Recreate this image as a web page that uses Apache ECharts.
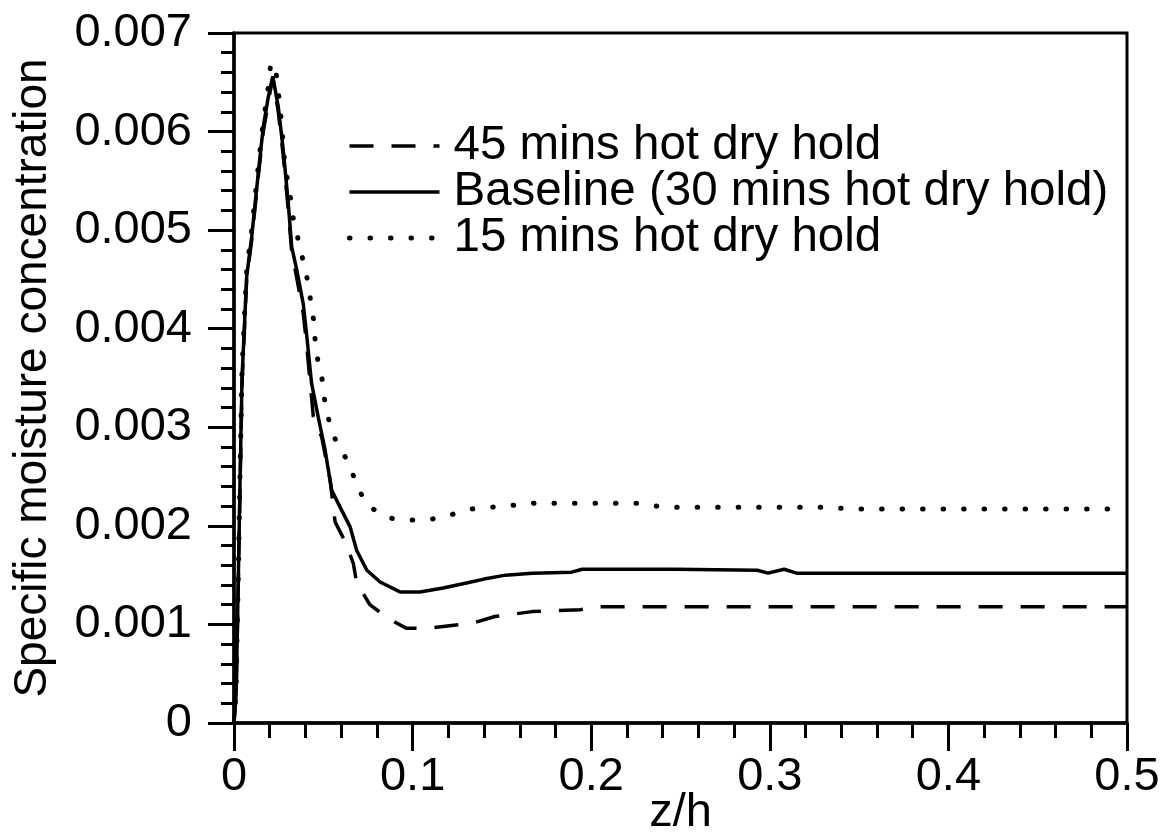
<!DOCTYPE html>
<html>
<head>
<meta charset="utf-8">
<script src="https://cdn.jsdelivr.net/npm/echarts@6/dist/echarts.min.js"></script>
<style>
html,body{margin:0;padding:0;background:#fff;}
#chart{width:1163px;height:833px;}
</style>
</head>
<body>
<div id="chart"></div>
<script>
// ---- data ----
const seriesNames = ['45 mins hot dry hold', 'Baseline (30 mins hot dry hold)', '15 mins hot dry hold'];

const xTickLabels = ['0', '0.1', '0.2', '0.3', '0.4', '0.5'];
const yTickLabels = ['0', '0.001', '0.002', '0.003', '0.004', '0.005', '0.006', '0.007'];

// 45 mins hot dry hold (dashed)
const z45 = [0, 0.0012, 0.0024, 0.0034, 0.0045, 0.0071, 0.0099, 0.0136, 0.0164, 0.0192, 0.0217, 0.0248, 0.0276, 0.0304, 0.0323, 0.0351, 0.0388, 0.0406, 0.0444, 0.0491, 0.0538, 0.0566, 0.0622, 0.0668, 0.0687, 0.0761, 0.0864, 0.0967, 0.1079, 0.1219, 0.1331, 0.1461, 0.167, 0.180, 0.194, 0.203, 0.5];
const v45 = [0, 0.0003, 0.0014, 0.0024, 0.00345, 0.0045, 0.0049, 0.00555, 0.0060, 0.0063, 0.00655, 0.0062, 0.00575, 0.0052, 0.00478, 0.00452, 0.00415, 0.00385, 0.00311, 0.0029, 0.00247, 0.00204, 0.00184, 0.00162, 0.00142, 0.0012, 0.00106, 0.00096, 0.00096, 0.00099, 0.00101, 0.00108, 0.00113, 0.00114, 0.00115, 0.00118, 0.00118];

// Baseline, 30 mins hot dry hold (solid)
const z30 = [0, 0.0012, 0.0024, 0.0034, 0.0045, 0.0071, 0.0099, 0.0136, 0.0164, 0.0192, 0.0217, 0.0248, 0.0276, 0.0304, 0.0323, 0.0351, 0.0388, 0.0406, 0.0434, 0.0472, 0.051, 0.0547, 0.0594, 0.065, 0.0687, 0.0744, 0.0818, 0.0929, 0.1041, 0.1171, 0.1302, 0.14, 0.152, 0.167, 0.189, 0.195, 0.247, 0.293, 0.299, 0.308, 0.315, 0.5];
const v30 = [0, 0.0003, 0.00145, 0.00247, 0.0035, 0.00453, 0.00493, 0.00558, 0.00605, 0.00635, 0.00656, 0.00625, 0.00581, 0.00527, 0.00483, 0.0046, 0.00425, 0.00395, 0.00345, 0.0031, 0.00277, 0.00236, 0.00219, 0.00199, 0.00175, 0.00155, 0.00143, 0.00133, 0.00133, 0.00137, 0.00142, 0.00146, 0.0015, 0.00152, 0.00153, 0.00156, 0.00156, 0.00155, 0.00152, 0.00156, 0.00152, 0.00152];

// 15 mins hot dry hold (dotted)
const z15 = [0, 0.0012, 0.0024, 0.0034, 0.0045, 0.0071, 0.0099, 0.0136, 0.0164, 0.0192, 0.0205, 0.023, 0.0258, 0.0286, 0.0314, 0.0323, 0.0351, 0.0379, 0.0407, 0.0426, 0.0444, 0.0454, 0.0469, 0.0494, 0.051, 0.0538, 0.0575, 0.0646, 0.0683, 0.0743, 0.0864, 0.0967, 0.1088, 0.121, 0.132, 0.1449, 0.168, 0.227, 0.240, 0.334, 0.345, 0.5];
const v15 = [0, 0.00035, 0.0015, 0.00255, 0.0036, 0.0046, 0.005, 0.00565, 0.0061, 0.00645, 0.00668, 0.00669, 0.00625, 0.00564, 0.00537, 0.00519, 0.00497, 0.00475, 0.00453, 0.00432, 0.00411, 0.00389, 0.00368, 0.00348, 0.00324, 0.00302, 0.00284, 0.00263, 0.00243, 0.00221, 0.00208, 0.00206, 0.00206, 0.00211, 0.00217, 0.00219, 0.00223, 0.00223, 0.00219, 0.00219, 0.00217, 0.00217];

// ---- chart ----
const FONT = "'Liberation Sans', Arial, Helvetica, sans-serif";
const zip = (a, b) => a.map((x, i) => [x, b[i]]);

const styles = [
  { type: [24, 18], width: 3.5, cap: 'butt' },
  { type: 'solid', width: 3.5, cap: 'butt' },
  { type: [0.5, 20], width: 5, cap: 'round' }
];
const dataSets = [zip(z45, v45), zip(z30, v30), zip(z15, v15)];

const chart = echarts.init(document.getElementById('chart'), null, { renderer: 'canvas' });

chart.setOption({
  backgroundColor: '#fff',
  animation: false,
  grid: {
    left: 234, right: 36, top: 33, bottom: 110,
    outerBoundsMode: 'none', containLabel: false,
    show: true, borderColor: '#000', borderWidth: 3, backgroundColor: 'transparent'
  },
  legend: {
    orient: 'vertical',
    left: 342,
    top: 117,
    itemWidth: 90,
    itemHeight: 20,
    itemGap: -2,
    selectedMode: false,
    itemStyle: { color: 'rgba(0,0,0,0)', opacity: 0, borderWidth: 0 },
    textStyle: { fontFamily: FONT, fontSize: 47.5, color: '#000', padding: [0, 0, 0, 9] },
    data: seriesNames.map((n, i) => ({
      name: n,
      itemStyle: { color: 'rgba(0,0,0,0)', opacity: 0, borderWidth: 0 },
      lineStyle: { width: styles[i].width, type: styles[i].type, cap: styles[i].cap, color: '#000', opacity: 1 }
    }))
  },
  xAxis: {
    type: 'value',
    min: 0, max: 0.5, interval: 0.1,
    name: 'z/h',
    nameLocation: 'middle',
    nameGap: 67,
    nameMoveOverlap: false,
    nameTextStyle: { fontFamily: FONT, fontSize: 47, color: '#000' },
    axisLine: { show: true, lineStyle: { color: '#000', width: 3.5 } },
    axisTick: { show: true, length: 28, lineStyle: { color: '#000', width: 3 } },
    minorTick: { show: true, splitNumber: 5, length: 15, lineStyle: { color: '#000', width: 3 } },
    splitLine: { show: false },
    minorSplitLine: { show: false },
    axisLabel: {
      fontFamily: FONT, fontSize: 47, color: '#000', margin: 31,
      formatter: v => xTickLabels[Math.round(v / 0.1)]
    }
  },
  yAxis: {
    type: 'value',
    min: 0, max: 0.007, interval: 0.001,
    name: 'Specific moisture concentration',
    nameLocation: 'middle',
    nameGap: 178,
    nameMoveOverlap: false,
    nameRotate: 90,
    nameTextStyle: { fontFamily: FONT, fontSize: 46, color: '#000' },
    axisLine: { show: true, lineStyle: { color: '#000', width: 3.5 } },
    axisTick: { show: true, length: 26, lineStyle: { color: '#000', width: 3 } },
    minorTick: { show: true, splitNumber: 5, length: 13, lineStyle: { color: '#000', width: 3 } },
    splitLine: { show: false },
    minorSplitLine: { show: false },
    axisLabel: {
      fontFamily: FONT, fontSize: 47, color: '#000', margin: 42,
      formatter: v => yTickLabels[Math.round(v / 0.001)]
    }
  },
  series: seriesNames.map((n, i) => ({
    name: n,
    type: 'line',
    data: dataSets[i],
    showSymbol: false,
    symbol: 'none',
    smooth: false,
    clip: true,
    lineStyle: { color: '#000', width: styles[i].width, type: styles[i].type, cap: styles[i].cap },
    itemStyle: { color: '#000' },
    emphasis: { disabled: true }
  }))
});
</script>
</body>
</html>
